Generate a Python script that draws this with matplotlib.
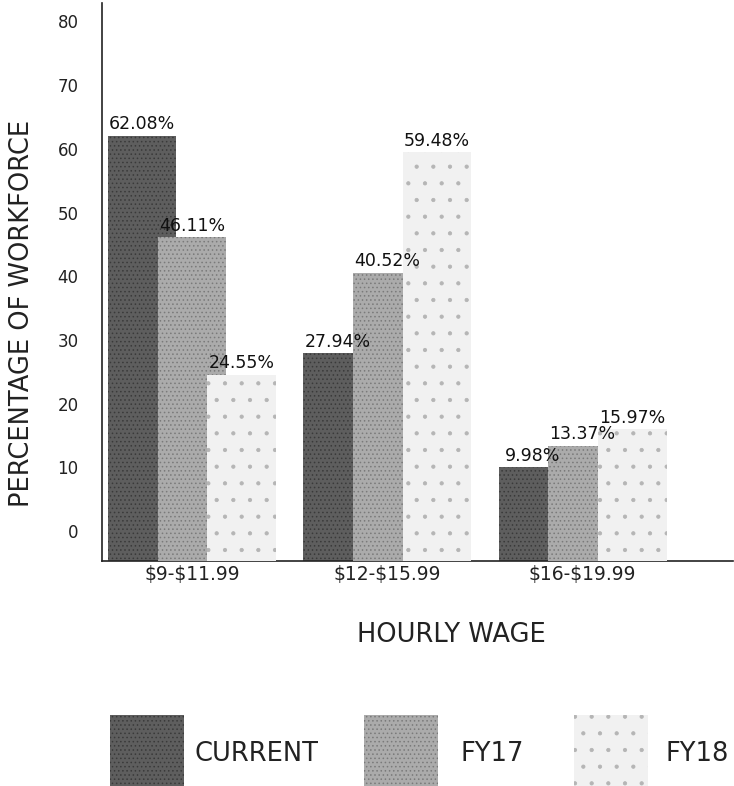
import numpy as np
import matplotlib.pyplot as plt
from matplotlib.patches import Rectangle

# Daten
wages = ['$9-$11.99', '$12-$15.99', '$16-$19.99']
series = ['CURRENT', 'FY17', 'FY18']
current = [62.08, 27.94, 9.98]
fy17 = [46.11, 40.52, 13.37]
fy18 = [24.55, 59.48, 15.97]
yticks = [0, 10, 20, 30, 40, 50, 60, 70, 80]

colors = ['#5e5e5e', '#ababab', '#f1f1f1']
hatch_colors = ['#3a3a3a', '#7a7a7a', '#b5b5b5']

plt.rcParams['font.family'] = ['DejaVu Sans']
plt.rcParams['text.parse_math'] = False
plt.rcParams['hatch.linewidth'] = 0.6

fig = plt.figure(figsize=(7.34, 7.86), dpi=100)
ax = fig.add_axes([102 / 734, 1 - 561 / 786, 631 / 734, 558 / 786])

x = np.arange(len(wages))
width = 0.35
step = 0.255
ymin = -4.7

for i, vals in enumerate([current, fy17, fy18]):
    pos = x + (i - 1) * step
    heights = np.array(vals) - ymin
    ax.bar(pos, heights, width, bottom=ymin, color=colors[i],
           edgecolor=hatch_colors[i], linewidth=0.0, hatch='....' if i < 2 else '.',
           zorder=2 + i)
    for p, v in zip(pos, vals):
        ax.text(p, v + 0.4, '{:.2f}%'.format(v), ha='center', va='bottom',
                fontsize=12.5, color='#111111', zorder=10)

ax.set_xlim(-0.46, 2.77)
ax.set_ylim(ymin, 82.9)
ax.set_yticks(yticks)
ax.set_yticklabels([str(t) for t in yticks], fontsize=12, color='#222222')
ax.set_xticks(x)
ax.set_xticklabels(wages, fontsize=13.5, color='#222222')
ax.tick_params(axis='y', length=0, pad=17)
ax.tick_params(axis='x', length=0, pad=3)
for s in ['top', 'right']:
    ax.spines[s].set_visible(False)
for s in ['left', 'bottom']:
    ax.spines[s].set_color('#222222')
    ax.spines[s].set_linewidth(1.2)

# Achsenbeschriftungen
fig.text(451 / 734, 1 - 635 / 786, 'HOURLY WAGE', ha='center', va='center',
         fontsize=18.5, color='#222222')
fig.text(22 / 734, 1 - 313 / 786, 'PERCENTAGE OF WORKFORCE', ha='center', va='center',
         rotation=90, fontsize=18.5, color='#222222')

# Legende
patch_x = [110, 364, 574]
text_x = [195, 460, 665]
for i, name in enumerate(series):
    r = Rectangle((patch_x[i] / 734, 0), 74 / 734, 71 / 786, transform=fig.transFigure,
                  facecolor=colors[i], edgecolor=hatch_colors[i], linewidth=0.0,
                  hatch='....' if i < 2 else '.')
    fig.patches.append(r)
    fig.text(text_x[i] / 734, 1 - 754 / 786, name, ha='left', va='center',
             fontsize=18.5, color='#222222')

fig.savefig('out.png', dpi=100)
